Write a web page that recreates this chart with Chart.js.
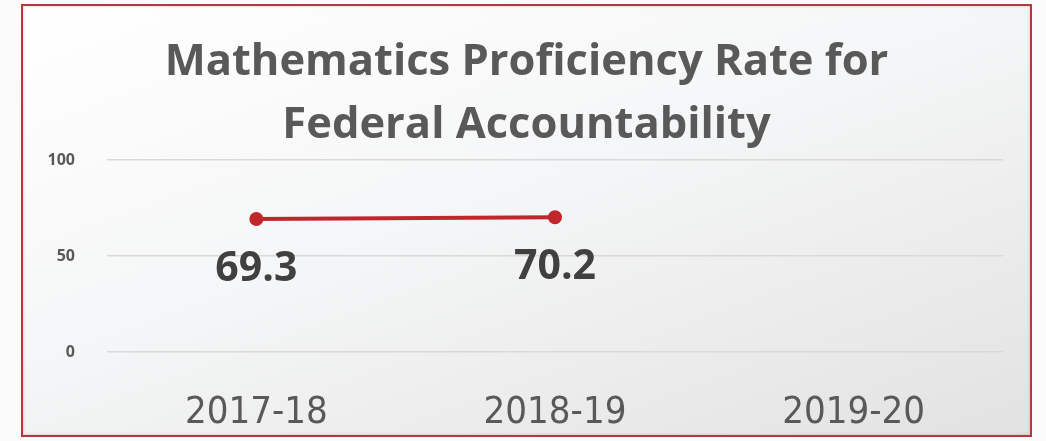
<!DOCTYPE html>
<html>
<head>
<meta charset="utf-8">
<script src="https://cdn.jsdelivr.net/npm/chart.js@4"></script>
<style>
  html, body { margin: 0; padding: 0; background: #fbfbfb; width: 1046px; height: 441px; overflow: hidden; }
  #box {
    position: absolute; left: 21px; top: 4px; width: 1007px; height: 429px;
    border: 2px solid #b03a3e;
    box-shadow: inset 0 0 3px rgba(220, 120, 120, 0.5);
    background: linear-gradient(160deg, #ffffff 0%, #f5f6f7 45%, #e2e2e2 100%);
  }
</style>
</head>
<body>
<div id="box"><canvas id="chart"></canvas></div>
<script>
  // donnees du graphique
  const years = ["2017-18", "2018-19", "2019-20"];
  const rates = [69.3, 70.2, null];
  const yTicks = [0, 50, 100];
  const titleLines = ["Mathematics Proficiency Rate for", "Federal Accountability"];

  // etiquettes de valeur sous les points
  const valueLabels = {
    id: "valueLabels",
    afterDatasetsDraw(chart) {
      const ctx = chart.ctx;
      const meta = chart.getDatasetMeta(0);
      ctx.save();
      ctx.font = 'bold 41px "Open Sans", sans-serif';
      ctx.fillStyle = "#404040";
      ctx.textAlign = "center";
      ctx.textBaseline = "middle";
      meta.data.forEach((pt, i) => {
        if (rates[i] == null) return;
        ctx.fillText(rates[i].toFixed(1), pt.x, pt.y + 50);
      });
      ctx.restore();
    },
  };

  new Chart(document.getElementById("chart"), {
    type: "line",
    data: {
      labels: years,
      datasets: [
        {
          label: "Proficiency",
          data: rates,
          borderColor: "#c0272d",
          backgroundColor: "#c0272d",
          borderWidth: 4,
          pointRadius: 5,
          pointBackgroundColor: "#c0272d",
        },
      ],
    },
    options: {
      responsive: true,
      maintainAspectRatio: false,
      animation: false,
      layout: { padding: 0 },
      plugins: {
        legend: { display: false },
        tooltip: { enabled: false },
        title: {
          display: true,
          text: titleLines,
          color: "#595959",
          font: { family: '"Open Sans", sans-serif', size: 43.5, weight: "bold", lineHeight: 1.45 },
          padding: { top: 25, bottom: 3 },
        },
      },
      scales: {
        x: {
          offset: true,
          grid: { display: false },
          border: { display: false },
          ticks: {
            color: "#595959",
            padding: 30,
            font: { family: '"DejaVu Sans Condensed", "Liberation Sans Narrow", sans-serif', size: 38 },
          },
          afterFit: (s) => { s.height = 83; },
        },
        y: {
          min: 0,
          max: 100,
          afterBuildTicks: (s) => { s.ticks = yTicks.map((v) => ({ value: v })); },
          grid: { color: "#d9d9d9", lineWidth: 1.5, drawTicks: false },
          border: { display: false },
          ticks: {
            color: "#595959",
            padding: 32,
            font: { family: '"Open Sans", sans-serif', size: 16, weight: "bold" },
          },
          afterFit: (s) => { s.width = 84; },
        },
        // marge droite vide
        yRight: {
          position: "right",
          min: 0,
          max: 100,
          grid: { display: false },
          border: { display: false },
          ticks: { display: false },
          afterFit: (s) => { s.width = 27; },
        },
      },
    },
    plugins: [valueLabels],
  });
</script>
</body>
</html>
